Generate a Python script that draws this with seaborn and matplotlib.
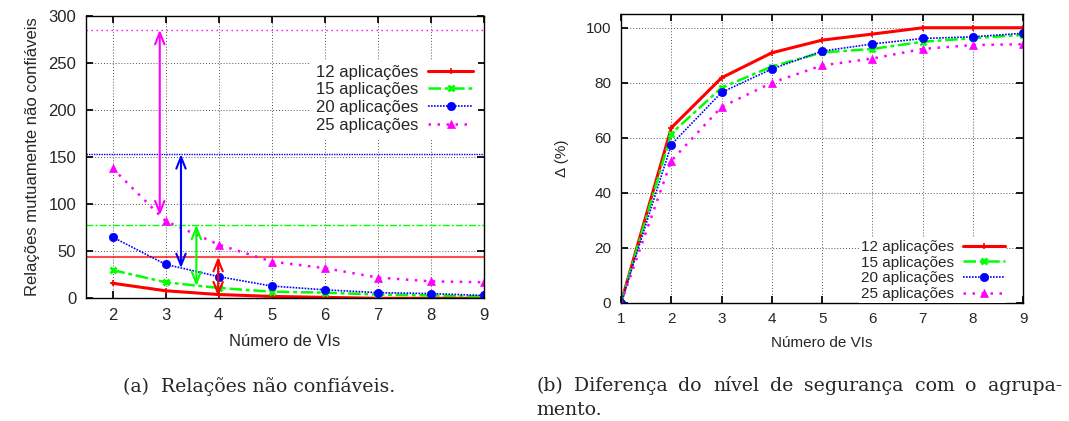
import pandas as pd
import matplotlib
matplotlib.use("Agg")
import matplotlib.pyplot as plt
import seaborn as sns

# data
VMS_A = [2, 3, 4, 5, 6, 7, 8, 9]
VMS_B = [1, 2, 3, 4, 5, 6, 7, 8, 9]
LABELS = ["12 aplicações", "15 aplicações", "20 aplicações", "25 aplicações"]

# (a) untrusted relations per number of VMs
REL_12 = [16, 8, 4, 2, 1, 0, 0, 0]
REL_15 = [30, 17, 11, 7, 6, 4, 3, 2]
REL_20 = [65, 36, 23, 13, 9, 6, 5, 3]
REL_25 = [138, 82, 57, 39, 32, 22, 18, 17]
# relations without grouping (horizontal reference lines)
BASE = [44, 78, 153, 285]
# double arrows: x position and lower end
ARROW_X = [3.99, 3.58, 3.29, 2.89]
ARROW_LOW = [2, 13, 32, 88]

# (b) security level difference (%)
DELTA_12 = [0, 63.6, 81.8, 90.9, 95.5, 97.7, 100, 100, 100]
DELTA_15 = [0, 61.5, 78.2, 85.9, 91.0, 92.3, 94.9, 96.2, 97.4]
DELTA_20 = [0, 57.5, 76.5, 85.0, 91.5, 94.1, 96.1, 96.7, 98.0]
DELTA_25 = [0, 51.6, 71.2, 80.0, 86.3, 88.8, 92.3, 93.7, 94.0]

CAPTION_A = "(a)  Relações não confiáveis."
CAPTION_B1 = "(b)  Diferença do nível de segurança com o agrupa-"
CAPTION_B2 = "mento."

STYLES = [
    dict(color="#ff0000", marker="+", ms=5, mew=1.2, lw=2.2, dashes=None),
    dict(color="#00ff00", marker="x", ms=5, mew=2.0, lw=1.8, dashes=(5, 1.5, 1.5, 1.5)),
    dict(color="#0000ff", marker="o", ms=6, mew=0.5, lw=1.2, dashes=(1, 0.8)),
    dict(color="#ff00ff", marker="^", ms=6, mew=0.5, lw=1.8, dashes=(1, 2.6)),
]

sns.set_theme(style="ticks")
plt.rcParams["font.family"] = ["Liberation Sans", "DejaVu Sans"]


def style_axes(ax, fs):
    ax.grid(True, color="#555555", lw=0.7, linestyle=(0, (1, 2)))
    ax.tick_params(direction="in", top=True, right=True, length=5,
                   labelsize=fs, color="black", pad=7)
    for s in ax.spines.values():
        s.set_color("black")
        s.set_linewidth(1.0)


def draw_series(ax, x, series):
    for y, lab, st in zip(series, LABELS, STYLES):
        df = pd.DataFrame({"x": x, "y": y})
        kw = dict(color=st["color"], marker=st["marker"], markersize=st["ms"],
                  markeredgewidth=st["mew"], markeredgecolor=st["color"],
                  linewidth=st["lw"], label=lab)
        line = sns.lineplot(data=df, x="x", y="y", ax=ax, **kw).lines[-1]
        if st["dashes"] is not None:
            line.set_dashes(st["dashes"])


def add_legend(ax, fs, **kw):
    leg = ax.legend(fontsize=fs, markerfirst=False, frameon=True, framealpha=1,
                    edgecolor="white", fancybox=False, handlelength=2.7,
                    handletextpad=0.6, borderaxespad=0, **kw)
    leg.get_frame().set_linewidth(0)


def justified(fig, text, x0, x1, y, **kw):
    # spread the words of one line between x0 and x1 (pixels)
    words = text.split()
    r = fig.canvas.get_renderer()
    arts = [fig.text(0, y, w, ha="left", **kw) for w in words]
    widths = [a.get_window_extent(r).width for a in arts]
    gap = (x1 - x0 - sum(widths)) / (len(words) - 1)
    x = x0
    for a, w in zip(arts, widths):
        a.set_x(x / W)
        x += w + gap


fig = plt.figure(figsize=(10.69, 4.21), dpi=100)
W, H = 1069, 421
ax1 = fig.add_axes([86 / W, 1 - 298.3 / H, 398 / W, 282.6 / H])
ax2 = fig.add_axes([621 / W, 1 - 302.7 / H, 402.3 / W, 288.7 / H])

# ---- (a)
for b, st in zip(BASE, STYLES):
    hl = ax1.axhline(b, color=st["color"], lw=1.0 if st["dashes"] else 1.5,
                     alpha=0.7 if st["dashes"] is None else 1.0, zorder=2)
    if st["dashes"] is not None:
        hl.set_dashes(st["dashes"])
for xa, lo, b, st in zip(ARROW_X, ARROW_LOW, BASE, STYLES):
    ax1.annotate("", xy=(xa, lo), xytext=(xa, b),
                 arrowprops=dict(arrowstyle="<->,head_length=0.7,head_width=0.28",
                                 color=st["color"], lw=1.5,
                                 shrinkA=0, shrinkB=0), zorder=3)
draw_series(ax1, VMS_A, [REL_12, REL_15, REL_20, REL_25])
ax1.set_xlim(1.5, 9)
ax1.set_ylim(0, 300)
ax1.set_xticks(VMS_A)
ax1.set_yticks(range(0, 301, 50))
ax1.set_xlabel("Número de VIs", fontsize=12, labelpad=8)
ax1.set_ylabel("Relações mutuamente não confiáveis", fontsize=12, labelpad=6)
style_axes(ax1, 12)
add_legend(ax1, 12, loc="upper right", bbox_to_anchor=(0.985, 0.845),
           labelspacing=0.16, borderpad=0.3)

# ---- (b)
draw_series(ax2, VMS_B, [DELTA_12, DELTA_15, DELTA_20, DELTA_25])
ax2.set_xlim(1, 9)
ax2.set_ylim(0, 105)
ax2.set_xticks(VMS_B)
ax2.set_yticks(range(0, 101, 20))
ax2.set_xlabel("Número de VIs", fontsize=11, labelpad=7)
ax2.set_ylabel("Δ (%)", fontsize=11, labelpad=12)
style_axes(ax2, 11)
add_legend(ax2, 11, loc="lower right", bbox_to_anchor=(0.958, 0.0),
           labelspacing=0.1, borderpad=0.12)

# captions
cap = dict(family=["DejaVu Serif"], fontsize=13.6, va="center")
fig.text(123 / W, 1 - 386 / H, CAPTION_A, ha="left", **cap)
justified(fig, CAPTION_B1, 536, 1062, 1 - 386 / H, **cap)
fig.text(536 / W, 1 - 410 / H, CAPTION_B2, ha="left", **cap)

fig.savefig("out.png", dpi=100)
